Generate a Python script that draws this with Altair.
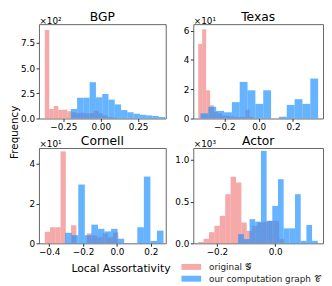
import altair as alt
import pandas as pd

ORIG = "original 𝒢"
COMP = "our computation graph 𝒞"

# ---------------- data ----------------
# BGP  (counts in units of 10^2)
bgp_red_start, bgp_red_width = -0.374, 0.030
bgp_red = [8.78, 0.94, 1.25, 0.85, 0.88, 0.72, 0.62, 0.55, 0.58, 0.50, 0.55, 0.78, 0.50, 0.30, 0.15, 0.08]
bgp_blue_start, bgp_blue_width = -0.200, 0.042
bgp_blue = [0.94, 2.06, 2.06, 3.60, 2.10, 2.43, 1.87, 1.40, 0.84, 0.62, 0.47, 0.37, 0.31, 0.25, 0.15]

# Texas (units of 10^1)
tex_red_start, tex_red_width = -0.352, 0.023
tex_red = [5.10, 6.10, 1.93, 0.90, 0.45, 0.35, 0.20, 0.20, 0.15, 0.10, 0.10, 0.10, 0.60, 0.10]
tex_blue_start, tex_blue_width = -0.339, 0.0457
tex_blue = [0.35, 0.80, 0.52, 0.43, 1.12, 2.50, 1.93, 1.00, 1.93, 0.0, 0.12, 0.93, 1.32, 1.00, 2.73]

# Cornell (units of 10^1)
cor_red_start, cor_red_width = -0.4255, 0.031
cor_red = [0.58, 0.81, 0.81, 4.63, 0.0, 0.91, 0.0, 0.0, 0.50, 0.40, 0.30, 0.50, 0.30, 0.55, 0.0]
cor_blue_start, cor_blue_width = -0.3056, 0.0387
cor_blue = [0.53, 0.41, 2.96, 0.41, 0.94, 0.73, 0.60, 0.73, 0.23, 0.0, 0.0, 0.81, 3.36, 0.12, 0.64]

# Actor (units of 10^3)
act_red_start, act_red_width = -0.264, 0.0185
act_red = [0.016, 0.055, 0.134, 0.21, 0.33, 0.59, 0.80, 0.73, 0.25, 0.15, 0.21, 0.25, 0.26, 0.27, 0.27, 0.05]
act_blue_start, act_blue_width = -0.127, 0.0195
act_blue = [0.11, 0.05, 0.29, 0.26, 1.11, 0.27, 0.45, 0.77, 0.18, 0.18, 0.59, 0.03, 0.22, 0.03]

FONT = "DejaVu Sans"


def make_df(rs, rw, rc, bs, bw, bc):
    rows = []
    for start, w, counts, s in [(rs, rw, rc, ORIG), (bs, bw, bc, COMP)]:
        for i, c in enumerate(counts):
            rows.append({"x0": round(start + i * w, 5), "x1": round(start + (i + 1) * w, 5),
                         "count": c, "series": s})
    return pd.DataFrame(rows)


legend = alt.Legend(
    orient="none", legendX=148, legendY=240, title=None,
    symbolType="M-1.43,-0.43L1.43,-0.43L1.43,0.43L-1.43,0.43Z",
    symbolSize=196, symbolStrokeWidth=0, labelOffset=11, labelFontSize=9,
    labelFont=FONT, labelColor="#222", rowPadding=0, padding=0,
)
color = alt.Color("series:N", sort=[ORIG, COMP],
                  scale=alt.Scale(domain=[ORIG, COMP], range=["#F08080", "#1E90FF"]),
                  legend=legend)


def panel(title, df, xdom, ydom, xticks, yticks, xfmt, yfmt, w, h, mult, xtitle=None):
    xaxis = alt.Axis(values=xticks, format=xfmt, title=xtitle)
    if xtitle:
        xaxis = alt.Axis(values=xticks, format=xfmt, title=xtitle, titleX=83, titleY=29,
                         titleAlign="center", titleBaseline="alphabetic", titleFontSize=11,
                         titleFontWeight="normal", titleFont=FONT, titleColor="black")
    yaxis = alt.Axis(values=yticks, format=yfmt, title=mult, titleAngle=0, titleX=0, titleY=-1,
                     titleAlign="left", titleBaseline="alphabetic", titleFontSize=9,
                     titleFontWeight="normal", titleFont=FONT, titleColor="black")
    bars = alt.Chart(df).mark_rect(opacity=0.68).encode(
        x=alt.X("x0:Q", scale=alt.Scale(domain=xdom, nice=False, zero=False), axis=xaxis),
        x2="x1:Q",
        y=alt.Y("count:Q", scale=alt.Scale(domain=ydom, nice=False, zero=True), axis=yaxis),
        y2=alt.datum(0),
        color=color,
    ).properties(
        width=w, height=h,
        title=alt.TitleParams(text=title, frame="group", offset=-17, fontSize=12.5, fontWeight="normal",
                              font=FONT, color="black", anchor="middle", baseline="alphabetic"),
    )
    return bars


bgp = panel("BGP", make_df(bgp_red_start, bgp_red_width, bgp_red, bgp_blue_start, bgp_blue_width, bgp_blue),
            [-0.413, 0.435], [0, 9.36], [-0.25, 0.0, 0.25], [0, 2.5, 5.0, 7.5], ".2f", ".1f", 129, 96, "×10²")
freq = alt.Chart(pd.DataFrame({"t": ["Frequency"]})).mark_text(
    angle=270, fontSize=10.5, font=FONT, align="center", baseline="middle", color="black"
).encode(text="t:N", x=alt.value(-24), y=alt.value(110))
bgp = alt.layer(bgp, freq)

texas = panel("Texas", make_df(tex_red_start, tex_red_width, tex_red, tex_blue_start, tex_blue_width, tex_blue),
              [-0.381, 0.375], [0, 6.45], [-0.2, 0.0, 0.2], [0, 2, 4, 6], ".1f", "d", 132, 96, "×10¹")
cornell = panel("Cornell", make_df(cor_red_start, cor_red_width, cor_red, cor_blue_start, cor_blue_width, cor_blue),
                [-0.46, 0.288], [0, 4.8], [-0.4, -0.2, 0.0, 0.2], [0, 2, 4], ".1f", "d", 129, 97, "×10¹",
                xtitle="Local Assortativity")
actor = panel("Actor", make_df(act_red_start, act_red_width, act_red, act_blue_start, act_blue_width, act_blue),
              [-0.281, 0.164], [0, 1.145], [-0.2, 0.0], [0, 0.5, 1.0], ".1f", ".1f", 132, 97, "×10³")

chart = alt.concat(bgp, texas, cornell, actor, columns=2, spacing={"row": 30, "column": 28},
                   bounds="flush", align="each").properties(
    padding={"left": 1.5, "top": 0, "right": 0, "bottom": 0}
).configure_view(stroke="#666", strokeWidth=1).configure_axis(
    domain=False, grid=False, ticks=True, tickSize=3, tickColor="#333", labelFontSize=9,
    labelFont=FONT, labelColor="black", labelPadding=1.5,
)

chart.save("out.html", embed_options={"renderer": "svg", "actions": False})
